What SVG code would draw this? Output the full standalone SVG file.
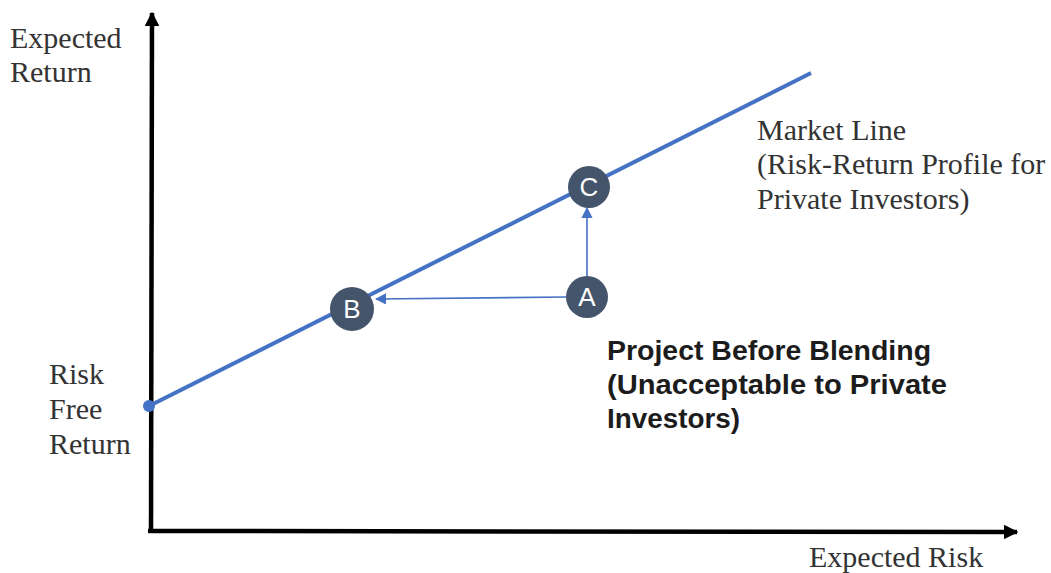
<svg xmlns="http://www.w3.org/2000/svg" width="1051" height="573" viewBox="0 0 1051 573">
  <style>
    .lbl { font-family: "Liberation Serif", "Times New Roman", serif; font-size: 30px; fill: #333333; }
    .note { font-family: "Liberation Sans", Arial, sans-serif; font-size: 27px; font-weight: bold; fill: #1c1c1c; }
    .axis { stroke: #000000; stroke-width: 4.5; fill: none; }
    .market { stroke: #4472C4; stroke-width: 4; fill: none; }
    .move { stroke: #4472C4; stroke-width: 1.6; fill: none; }
    .pt circle { fill: #44546A; }
    .pt text { font-family: "Liberation Sans", Arial, sans-serif; font-size: 26px; fill: #ffffff; text-anchor: middle; }
  </style>
  <defs>
    <marker id="axisHead" viewBox="0 0 10 10" refX="9" refY="5" markerWidth="3.3" markerHeight="3.3" markerUnits="strokeWidth" orient="auto">
      <path d="M0,0 L10,5 L0,10 Z" fill="#000000"/>
    </marker>
    <marker id="moveHead" viewBox="0 0 10 10" refX="9" refY="5" markerWidth="7" markerHeight="7" markerUnits="strokeWidth" orient="auto">
      <path d="M0,0 L10,5 L0,10 Z" fill="#4472C4"/>
    </marker>
  </defs>

  <rect width="1051" height="573" fill="#ffffff"/>

  <!-- axes -->
  <g id="axes">
    <line class="axis" x1="151" y1="533" x2="152" y2="13" marker-end="url(#axisHead)"/>
    <line class="axis" x1="148" y1="531" x2="1017" y2="532" marker-end="url(#axisHead)"/>
  </g>

  <!-- axis labels -->
  <g id="labels">
    <text class="lbl" x="10" y="48">Expected</text>
    <text class="lbl" x="10" y="82">Return</text>
    <text class="lbl" x="809" y="567">Expected Risk</text>
    <text class="lbl" x="49" y="384">Risk</text>
    <text class="lbl" x="49" y="419">Free</text>
    <text class="lbl" x="49" y="454">Return</text>
    <text class="lbl" x="757" y="140">Market Line</text>
    <text class="lbl" x="757" y="174">(Risk-Return Profile for</text>
    <text class="lbl" x="757" y="209">Private Investors)</text>
  </g>

  <!-- market line and movements -->
  <g id="connectors">
    <line class="market" x1="149" y1="406" x2="811" y2="73"/>
    <circle cx="149" cy="406" r="6" fill="#4472C4"/>
    <line class="move" x1="566" y1="297" x2="376" y2="299" marker-end="url(#moveHead)"/>
    <line class="move" x1="587" y1="276" x2="587" y2="208" marker-end="url(#moveHead)"/>
  </g>

  <g id="node-B" class="pt">
    <circle cx="352" cy="309" r="22"/>
    <text x="352" y="318">B</text>
  </g>
  <g id="node-C" class="pt">
    <circle cx="589" cy="187" r="21"/>
    <text x="589" y="196">C</text>
  </g>
  <g id="node-A" class="pt">
    <circle cx="587" cy="297" r="21"/>
    <text x="587" y="306">A</text>
  </g>

  <g id="project-note">
    <text class="note" x="607" y="360" textLength="324" lengthAdjust="spacingAndGlyphs">Project Before Blending</text>
    <text class="note" x="607" y="394" textLength="340" lengthAdjust="spacingAndGlyphs">(Unacceptable to Private</text>
    <text class="note" x="607" y="428" textLength="133" lengthAdjust="spacingAndGlyphs">Investors)</text>
  </g>
</svg>
